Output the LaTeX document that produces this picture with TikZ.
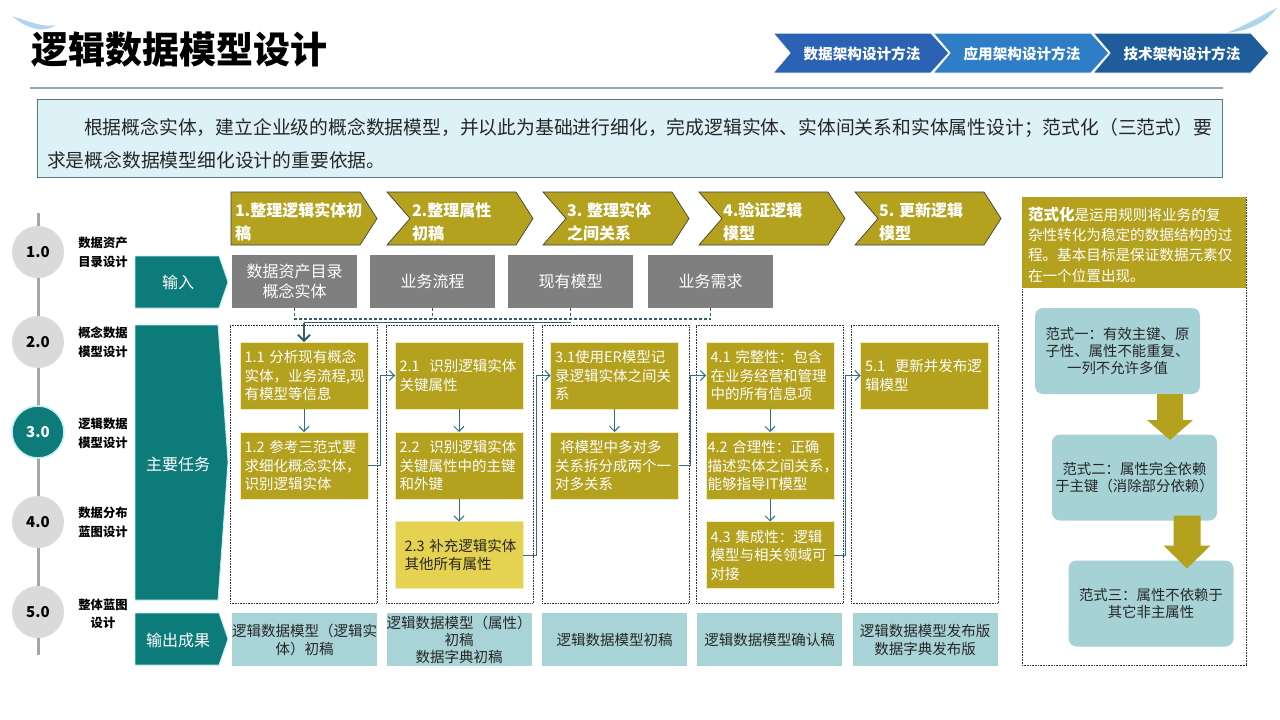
\documentclass[tikz,border=0pt]{standalone}
\usepackage{fontspec}
\setmainfont{Noto Sans CJK SC}
\setsansfont{Noto Sans CJK SC}
\usetikzlibrary{arrows.meta,calc}
\definecolor{tealband}{HTML}{0E7B7B}
\definecolor{glowc}{HTML}{BDEFF5}
\definecolor{olivebox}{HTML}{B4A11E}
\definecolor{paleyel}{HTML}{E5D250}
\definecolor{inputgray}{HTML}{7F7F7F}
\definecolor{outfill}{HTML}{A9D4D7}
\definecolor{rpbox}{HTML}{A6D2D6}
\definecolor{introfill}{HTML}{DDF2F6}
\definecolor{introborder}{HTML}{557A85}
\definecolor{darktext}{HTML}{262626}
\definecolor{bcA}{HTML}{2B62B3}
\definecolor{bcB}{HTML}{2E7DC6}
\definecolor{bcC}{HTML}{1F5C9C}
\definecolor{circgray}{HTML}{DADADA}
\definecolor{sidegray}{HTML}{A6A6A6}
\definecolor{connc}{HTML}{2E6E8E}
\definecolor{busc}{HTML}{2F5F6A}
\definecolor{linegray}{HTML}{8FA7B0}
\definecolor{swooshc}{HTML}{8EC3E6}
\newcommand{\myfs}[2]{\fontsize{#1pt}{#2pt}\selectfont}
\begin{document}
\begin{tikzpicture}[x=1pt,y=-1pt,
  every node/.style={inner sep=0pt, outer sep=0pt},
  inbox/.style={fill=inputgray, text=white, minimum width=125pt, minimum height=53pt, align=center, font=\myfs{16}{20}},
  colbox/.style={draw=black!80, densely dotted, line width=0.6pt, minimum width=147pt, minimum height=278pt, anchor=north west},
  taskbox/.style={fill=olivebox, draw={rgb,255:red,243;green,237;blue,181}, line width=0.5pt, text=white, align=left, text width=119pt, inner xsep=4.5pt, minimum height=67pt, font=\myfs{14.5}{18.5}},
  outbox/.style={fill=outfill, text=darktext, minimum width=145pt, minimum height=53pt, align=center, font=\myfs{14.5}{18}},
  nfbox/.style={fill=rpbox, rounded corners=8pt, text=darktext, align=center, minimum width=165pt, minimum height=86pt, font=\myfs{14.4}{17}},
  conn/.style={draw=connc, line width=1pt, -{Straight Barb[length=5pt,width=10pt]}},
  bigarrow/.style={draw=busc, line width=1.8pt, -{Straight Barb[length=6pt,width=12pt,line width=1.8pt]}},
  dashbus/.style={draw=busc, line width=1.2pt, dash pattern=on 3pt off 2pt},
  bandtxt/.style={text=white, font=\myfs{16}{20}},
  steptxt/.style={text=white, anchor=west, align=left, font=\myfs{16}{23}\bfseries}
]
\useasboundingbox (0,0) rectangle (1280,720);
\fill[white] (0,0) rectangle (1280,720);

% swooshes
\fill[swooshc, opacity=0.7] (12,16) .. controls (30,22) and (45,28) .. (56,25) .. controls (45,33) and (28,30) .. (12,16) -- cycle;
\fill[swooshc, opacity=0.7] (1226,33) .. controls (1245,26) and (1260,16) .. (1277,8) .. controls (1268,21) and (1250,31) .. (1226,33) -- cycle;

% title
\node[anchor=west, font=\myfs{37}{40}\bfseries] (title) at (31,50) {逻辑数据模型设计};
\draw[linegray, line width=1.5pt] (30,88) -- (1223,88);

% breadcrumbs
\foreach \i/\L/\c/\txt in {1/773/bcA/数据架构设计方法, 2/933/bcB/应用架构设计方法, 3/1093/bcC/技术架构设计方法} {
  \filldraw[fill=\c, draw=white, line width=1pt] (\L,33) -- (\L+158,33) -- (\L+176,53) -- (\L+158,73) -- (\L,73) -- (\L+17,53) -- cycle;
  \node[text=white, font=\myfs{14.6}{16}\bfseries] (bc\i) at (\L+89,54) {\txt};
}

% intro
\node[draw=introborder, fill=introfill, line width=1pt, minimum width=1185pt, minimum height=78pt, anchor=north west] (intro) at (37,99) {};
\node[anchor=north west, align=left, text=darktext, font=\myfs{18.8}{33}] (introtxt) at (47,118) {\hspace*{37pt}根据概念实体，建立企业级的概念数据模型，并以此为基础进行细化，完成逻辑实体、实体间关系和实体属性设计；范式化（三范式）要\\求是概念数据模型细化设计的重要依据。};

% sidebar
\draw[sidegray, line width=3pt] (38,213) -- (38,655);
\foreach \n/\y in {1/252, 2/342, 4/522, 5/612}
  \node[circle, fill=circgray, minimum size=52pt, font=\myfs{15}{15}\bfseries] (c\n) at (38,\y) {\n.0};
\node[circle, fill=tealband, draw=glowc, line width=1.5pt, minimum size=52pt, text=white, font=\myfs{15}{15}\bfseries] (c3) at (38,432) {3.0};
\node[align=center, font=\myfs{12.3}{19}\bfseries] (l1) at (103,252.5) {数据资产\\目录设计};
\node[align=center, font=\myfs{12.3}{19}\bfseries] (l2) at (103,342.5) {概念数据\\模型设计};
\node[align=center, font=\myfs{12.3}{19}\bfseries] (l3) at (103,433) {逻辑数据\\模型设计};
\node[align=center, font=\myfs{12.3}{19}\bfseries] (l4) at (103,522.5) {数据分布\\蓝图设计};
\node[align=center, font=\myfs{12.3}{18}\bfseries] (l5) at (103,614) {整体蓝图\\设计};

% teal bands
\filldraw[fill=tealband, draw=glowc, line width=0.8pt] (135,256) -- (219,256) -- (228,282) -- (219,308) -- (135,308) -- cycle;
\node[bandtxt] (bIn) at (178,282) {输入};
\filldraw[fill=tealband, draw=glowc, line width=0.8pt] (135,325) -- (218,325) -- (228,462) -- (218,600) -- (135,600) -- cycle;
\node[bandtxt] (bTask) at (178,464) {主要任务};
\filldraw[fill=tealband, draw=glowc, line width=0.8pt] (135,613) -- (219,613) -- (228,639) -- (219,665) -- (135,665) -- cycle;
\node[bandtxt] (bOut) at (178,640) {输出成果};

% step chevrons
\foreach \i/\L/\n in {1/231/0, 2/387/23, 3/543/23, 4/699/23, 5/855/23}
  \filldraw[fill=olivebox, draw=black!75, line width=0.7pt] (\L,192) -- (\L+129,192) -- (\L+146,218.5) -- (\L+129,245) -- (\L,245) -- (\L+\n,218.5) -- cycle;
\node[steptxt] (s1) at (235,221.5) {1.整理逻辑实体初\\稿};
\node[steptxt] (s2) at (412,221.5) {2.整理属性\\初稿};
\node[steptxt] (s3) at (567,221.5) {3. 整理实体\\之间关系};
\node[steptxt] (s4) at (723,221.5) {4.验证逻辑\\模型};
\node[steptxt] (s5) at (879,221.5) {5. 更新逻辑\\模型};

% inputs
\node[inbox] (in1) at (294.5,281.5) {数据资产目录\\概念实体};
\node[inbox] (in2) at (432.5,281.5) {业务流程};
\node[inbox] (in3) at (570.5,281.5) {现有模型};
\node[inbox] (in4) at (710.5,281.5) {业务需求};

% columns
\node[colbox] (col1) at (230,325) {};
\node[colbox] (col2) at (386,325) {};
\node[colbox] (col3) at (542,325) {};
\node[colbox] (col4) at (696,325) {};
\node[colbox] (col5) at (851,325) {};

% task boxes
\node[taskbox] (t11) at (304,375.5) {1.1 分析现有概念\\实体，业务流程,现\\有模型等信息};
\node[taskbox] (t12) at (304,465.5) {1.2 参考三范式要\\求细化概念实体，\\识别逻辑实体};
\node[taskbox] (t21) at (459,375.5) {2.1\ \ 识别逻辑实体\\关键属性};
\node[taskbox] (t22) at (459,465.5) {2.2\ \ 识别逻辑实体\\关键属性中的主键\\和外键};
\node[taskbox, fill=paleyel, text=darktext] (t23) at (459,555) {\hspace*{5pt}2.3 补充逻辑实体\\\hspace*{5pt}其他所有属性};
\node[taskbox] (t31) at (614.5,375.5) {3.1使用ER模型记\\录逻辑实体之间关\\系};
\node[taskbox] (t32) at (614.5,465.5) {\hspace*{5pt}将模型中多对多\\关系拆分成两个一\\对多关系};
\node[taskbox] (t41) at (770,375.5) {4.1 完整性：包含\\在业务经营和管理\\中的所有信息项};
\node[taskbox] (t42) at (770,465.5) {\hspace*{-3pt}4.2 合理性：正确\\\hspace*{-3pt}描述实体之间关系，\\\hspace*{-3pt}能够指导IT模型};
\node[taskbox] (t43) at (770,555) {4.3 集成性：逻辑\\模型与相关领域可\\对接};
\node[taskbox] (t51) at (924.5,375.5) {5.1\ \ 更新并发布逻\\辑模型};

% input bus
\coordinate (bus) at (300,319);
\coordinate (bus2) at (300,322.5);
\draw[dashbus] (in1.south) -- (in1.south |- bus) -- (in4.south |- bus) -- (in4.south);
\draw[dashbus] (in2.south) -- (in2.south |- bus);
\draw[dashbus] (in3.south) -- (in3.south |- bus);
\draw[busc, line width=1.8pt] (t11.north |- bus2) -- (in3.south |- bus2);
\draw[bigarrow] (t11.north |- bus2) -- (t11.north);

% in-column arrows
\draw[conn] (t11.south) -- (t12.north);
\draw[conn] (t21.south) -- (t22.north);
\draw[conn] (t22.south) -- (t23.north);
\draw[conn] (t31.south) -- (t32.north);
\draw[conn] (t41.south) -- (t42.north);
\draw[conn] (t42.south) -- (t43.north);

% cross-column arrows
\draw[conn] (t12.east) -- ++(12,0) |- (t21.west);
\draw[conn] (t23.east) -- ++(13,0) |- (t31.west);
\draw[conn] (t32.east) -- ++(12,0) |- (t41.west);
\draw[conn] (t43.east) -- ++(11,0) |- (t51.west);

% outputs
\node[outbox] (o1) at (304.5,639.5) {逻辑数据模型（逻辑实\\体）初稿};
\node[outbox, font=\myfs{14.5}{17}] (o2) at (459,639.5) {逻辑数据模型（属性）\\初稿\\数据字典初稿};
\node[outbox] (o3) at (614.5,639.5) {逻辑数据模型初稿};
\node[outbox] (o4) at (769.5,639.5) {逻辑数据模型确认稿};
\node[outbox] (o5) at (925,639.5) {逻辑数据模型发布版\\数据字典发布版};

% right panel
\node[draw=black!80, densely dotted, line width=0.6pt, minimum width=224pt, minimum height=468pt, anchor=north west] (rp) at (1022,197) {};
\node[fill=olivebox, minimum width=224pt, minimum height=91pt, anchor=north west] (rphead) at (1022,197) {};
\node[anchor=north west, align=left, text=white, font=\myfs{14.6}{20.3}] (rptxt) at (1028,207) {\textbf{\myfs{15.5}{20.3}范式化}是运用规则将业务的复\\杂性转化为稳定的数据结构的过\\程。基本目标是保证数据元素仅\\在一个位置出现。};
\node[nfbox] (n1) at (1117.5,351) {范式一：有效主键、原\\子性、属性不能重复、\\一列不允许多值};
\node[nfbox] (n2) at (1134.5,477.5) {范式二：属性完全依赖\\于主键（消除部分依赖）};
\node[nfbox] (n3) at (1151,603.5) {范式三：属性不依赖于\\其它非主属性};
\path (n1.south) ++(52.5,0) coordinate (a1t);
\path (n2.south) ++(52.5,0) coordinate (a2t);
\fill[olivebox] ($(a1t)+(-13,0)$) -- ++(26,0) -- ++(0,26) -- ++(10,0) -- ($(a1t)+(0,46)$) -- ($(a1t)+(-23,26)$) -- ++(10,0) -- cycle;
\fill[olivebox] ($(a2t)+(-13.5,-5)$) -- ++(27,0) -- ++(0,30) -- ++(10,0) -- ($(a2t)+(0,48)$) -- ($(a2t)+(-23.5,25)$) -- ++(10,0) -- cycle;
\end{tikzpicture}
\end{document}
